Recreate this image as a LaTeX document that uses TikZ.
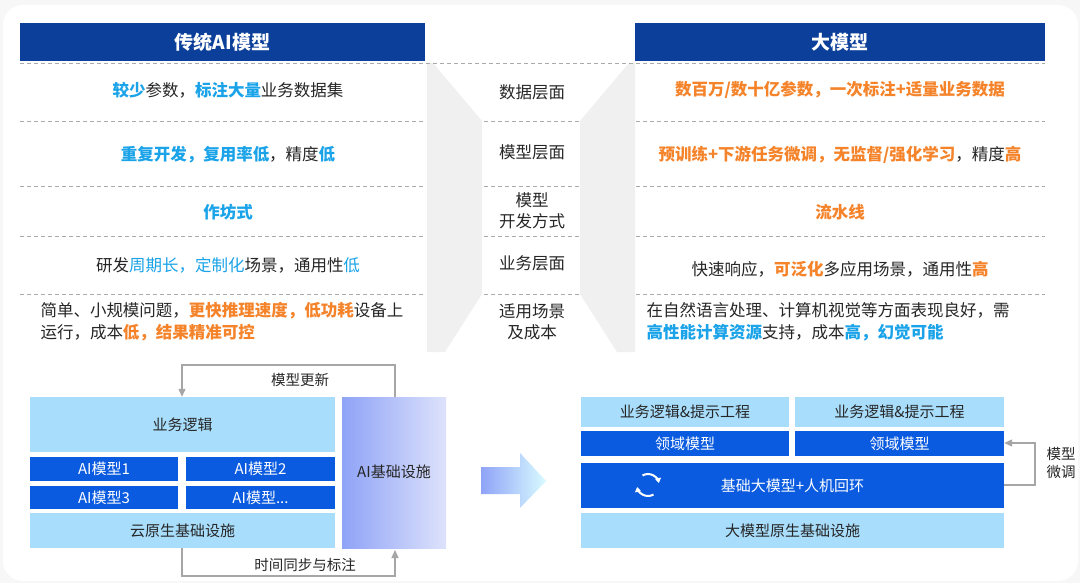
\documentclass[tikz,border=0pt]{standalone}
\usepackage{fontspec}
\setmainfont{Noto Sans CJK SC}
\usetikzlibrary{arrows.meta}
\definecolor{hdr}{HTML}{0B3F9A}
\definecolor{bl}{HTML}{1AA3E8}
\definecolor{og}{HTML}{F5832A}
\definecolor{lb}{HTML}{A8DDFB}
\definecolor{db}{HTML}{0A5BE0}
\definecolor{gr}{HTML}{F0F0F0}
\definecolor{dashc}{HTML}{AAAAAA}
\definecolor{infa}{HTML}{8FA3F7}
\definecolor{infb}{HTML}{DDE2FB}
\newcommand{\B}[1]{\textcolor{bl}{\bfseries #1}}
\newcommand{\Bn}[1]{\textcolor{bl}{#1}}
\newcommand{\Og}[1]{\textcolor{og}{\bfseries #1}}
\begin{document}
\begin{tikzpicture}[x=1pt,y=-1pt,
  txt/.style={font=\fontsize{16.5}{22}\selectfont,text=black!85,align=center},
  cen/.style={font=\fontsize{16.5}{21}\selectfont,text=black!85,align=center},
  hd/.style={fill=hdr,text=white,font=\fontsize{19}{22}\selectfont\bfseries},
  light/.style={fill=lb,text=black!85,font=\fontsize{15}{18}\selectfont},
  dark/.style={fill=db,text=white,font=\fontsize{15}{18}\selectfont},
  dl/.style={draw=dashc,line width=0.8pt,dash pattern=on 4pt off 3pt},
  fl/.style={draw=black!35,line width=1.2pt,-{Triangle[length=8pt,width=7pt]}}]
\useasboundingbox (0,0) rectangle (1080,583);
\fill[black!3] (0,0) rectangle (1080,583);
\fill[white,rounded corners=20pt] (3,5) rectangle (1078,581);
% headers
\node[hd,minimum width=405pt,minimum height=38pt] (hl) at (222.5,42) {传统AI模型};
\node[hd,minimum width=410pt,minimum height=38pt] (hr) at (840,42) {大模型};
% grey funnels
\fill[gr] (427,63) -- (433,63) -- (482,121) -- (482,294) -- (445,352) -- (427,352) -- cycle;
\fill[gr] (635,63) -- (629,63) -- (580,121) -- (580,294) -- (617,352) -- (635,352) -- cycle;
% dashed lines
\draw[dl] (20,63) -- (1045,63);
\foreach \y in {121,186,236,294}{
  \draw[dl] (20,\y) -- (425,\y);
  \draw[dl] (484,\y) -- (579,\y);
  \draw[dl] (636,\y) -- (1045,\y);}
% center labels
\node[cen] (c1) at (532,92) {数据层面};
\node[cen] (c2) at (532,152) {模型层面};
\node[cen] (c3) at (532,211) {模型\\开发方式};
\node[cen] (c4) at (532,263) {业务层面};
\node[cen] (c5) at (532,322) {适用场景\\及成本};
% left rows
\node[txt] (l1) at (228,90) {\B{较少}参数，\B{标注大量}业务数据集};
\node[txt] (l2) at (228,155) {\B{重复开发，复用率低}，精度\B{低}};
\node[txt] (l3) at (228,212) {\B{作坊式}};
\node[txt] (l4) at (228,265) {研发\Bn{周期长，定制化}场景，通用性\Bn{低}};
\node[txt,align=left] (l5) at (222,322) {简单、小规模问题，\Og{更快推理速度，低功耗}设备上\\运行，成本\Og{低，结果精准可控}};
% right rows
\node[txt] (r1) at (840,90) {\Og{数百万/数十亿参数，一次标注+适量业务数据}};
\node[txt] (r2) at (840,155) {\Og{预训练+下游任务微调，无监督/强化学习}，精度\Og{高}};
\node[txt] (r3) at (840,212) {\Og{流水线}};
\node[txt] (r4) at (840,269) {快速响应，\Og{可泛化}多应用场景，通用性\Og{高}};
\node[txt,align=left,anchor=west] (r5) at (643,322) {在自然语言处理、计算机视觉等方面表现良好，需\\\B{高性能计算资源}支持，成本\B{高，幻觉可能}};
% bottom left
\node[light,minimum width=305pt,minimum height=55pt] (biz) at (182.5,424.5) {业务逻辑};
\node[dark,minimum width=148pt,minimum height=24pt] (m1) at (104,469) {AI模型1};
\node[dark,minimum width=149pt,minimum height=24pt] (m2) at (260.5,469) {AI模型2};
\node[dark,minimum width=148pt,minimum height=23pt] (m3) at (104,497.5) {AI模型3};
\node[dark,minimum width=149pt,minimum height=23pt] (m4) at (260.5,497.5) {AI模型...};
\node[light,minimum width=305pt,minimum height=35pt] (cloud) at (182.5,530.5) {云原生基础设施};
\shade[left color=infa,right color=infb] (342,397) rectangle (446,548);
\node[font=\fontsize{15}{18}\selectfont,text=black!85] (infra) at (394,472) {AI基础设施};
\coordinate (u1) at (395,397); \coordinate (u2) at (395,365); \coordinate (u3) at (182,365);
\draw[fl] (u1) -- (u2) -- (u3) -- (biz.north -| u3);
\node[font=\fontsize{14.5}{18}\selectfont,text=black!85] (upd) at (300,380) {模型更新};
\coordinate (d1) at (182,576); \coordinate (d2) at (395,576);
\draw[fl] (cloud.south -| d1) -- (d1) -- (d2) -- (395,550);
\node[font=\fontsize{14.5}{18}\selectfont,text=black!85] (sync) at (305,565) {时间同步与标注};
% big arrow
\shade[left color=infa,right color=blue!10!cyan!15] (481,467) -- (520,467) -- (520,453) -- (546,481) -- (520,508) -- (520,494) -- (481,494) -- cycle;
% bottom right
\node[light,minimum width=208pt,minimum height=30pt] (p1) at (685,412) {业务逻辑\&提示工程};
\node[light,minimum width=209pt,minimum height=30pt] (p2) at (899.5,412) {业务逻辑\&提示工程};
\node[dark,minimum width=208pt,minimum height=25pt] (dm1) at (685,443.5) {领域模型};
\node[dark,minimum width=209pt,minimum height=25pt] (dm2) at (899.5,443.5) {领域模型};
\node[dark,minimum width=423pt,minimum height=45pt] (base) at (792.5,485.5) {基础大模型+人机回环};
\node[light,minimum width=423pt,minimum height=35pt] (native) at (792.5,530.5) {大模型原生基础设施};
\draw[white,line width=2pt,-{Triangle[length=5pt,width=6pt]}] (648,485) ++(60:11) arc (60:170:11);
\draw[white,line width=2pt,-{Triangle[length=5pt,width=6pt]}] (648,485) ++(240:11) arc (240:350:11);
\coordinate (t1) at (1035,485); \coordinate (t2) at (1035,443);
\draw[fl] (base.east |- t1) -- (t1) -- (t2) -- (dm2.east |- t2);
\node[font=\fontsize{14.5}{18}\selectfont,text=black!85,align=center] (tune) at (1061,463) {模型\\微调};
\end{tikzpicture}
\end{document}
